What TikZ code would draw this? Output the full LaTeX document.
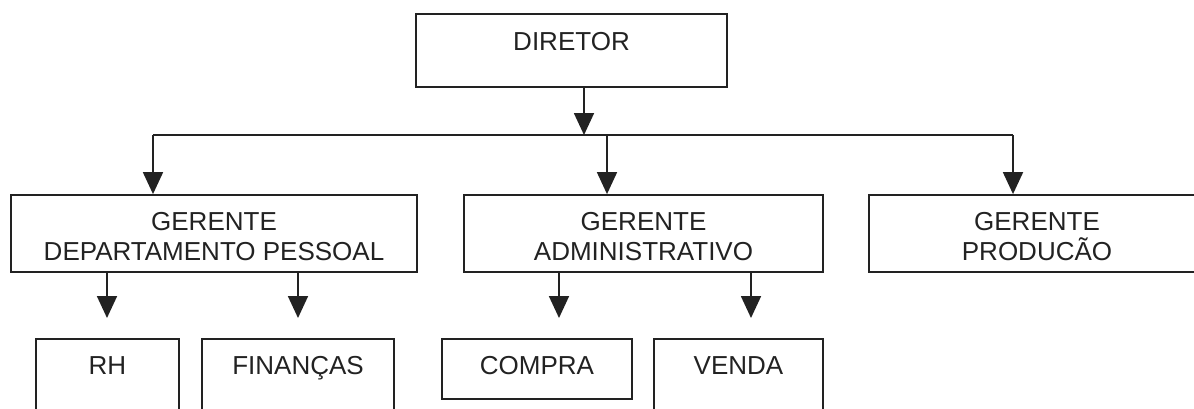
\documentclass[tikz,border=0pt]{standalone}
\usepackage{fontspec}
\setmainfont{Liberation Sans}
\usetikzlibrary{arrows.meta}
\definecolor{ink}{HTML}{222222}
\tikzset{
  box/.style={draw=ink, line width=0.9pt, inner sep=0pt},
  lab/.style={font=\fontsize{13}{15}\selectfont, align=center, text=ink, inner sep=0pt},
  lab1/.style={lab, text height=11.5pt, text depth=2.2pt},
  arr/.style={draw=ink, line width=0.9pt, -{Triangle[width=10pt,length=11pt]}},
  bus/.style={draw=ink, line width=0.9pt}
}
\begin{document}
\begin{tikzpicture}[x=0.5pt,y=-0.5pt]
\useasboundingbox (0,0) rectangle (1194,408);
\clip (0,0) rectangle (1194,408);
% boxes
\node[box, minimum width=155.5pt, minimum height=36.5pt,
      label={[lab1, yshift=4.75pt]center:DIRETOR}] (dir) at (571.5,50.5) {};
\node[box, minimum width=203pt, minimum height=38.5pt,
      label={[lab, yshift=-1.75pt]center:GERENTE\\DEPARTAMENTO PESSOAL}] (gdp) at (214,233.5) {};
\node[box, minimum width=179.5pt, minimum height=38.5pt,
      label={[lab, yshift=-1.75pt]center:GERENTE\\ADMINISTRATIVO}] (gadm) at (643.5,233.5) {};
\node[box, minimum width=181pt, minimum height=38.5pt,
      label={[lab, yshift=-1.75pt, xshift=-6.5pt]center:GERENTE\\PRODUCÃO}] (gprod) at (1050,233.5) {};
\node[box, minimum width=71.5pt, minimum height=50pt,
      label={[lab1, yshift=12pt]center:RH}] (rh) at (107.5,389) {};
\node[box, minimum width=96pt, minimum height=50pt,
      label={[lab1, yshift=12pt]center:FINANÇAS}] (fin) at (298,389) {};
\node[box, minimum width=95pt, minimum height=30pt,
      label={[lab1, yshift=2pt]center:COMPRA}] (compra) at (537,369) {};
\node[box, minimum width=84.5pt, minimum height=50pt,
      label={[lab1, yshift=12pt]center:VENDA}] (venda) at (738.5,389) {};
% bus coordinates
\coordinate (j) at (584,135);
\coordinate (bL) at (153,135);
\coordinate (bM) at (607,135);
\coordinate (bR) at (1013,135);
\coordinate (a1) at (107,318);
\coordinate (a2) at (298,318);
\coordinate (a3) at (559,318);
\coordinate (a4) at (751,318);
% connectors
\draw[arr] (j |- dir.south) -- (j);
\draw[bus] (bL) -- (bR);
\draw[arr] (bL) -- (bL |- gdp.north);
\draw[arr] (bM) -- (bM |- gadm.north);
\draw[arr] (bR) -- (bR |- gprod.north);
\draw[arr] (a1 |- gdp.south) -- (a1);
\draw[arr] (a2 |- gdp.south) -- (a2);
\draw[arr] (a3 |- gadm.south) -- (a3);
\draw[arr] (a4 |- gadm.south) -- (a4);
\end{tikzpicture}
\end{document}
